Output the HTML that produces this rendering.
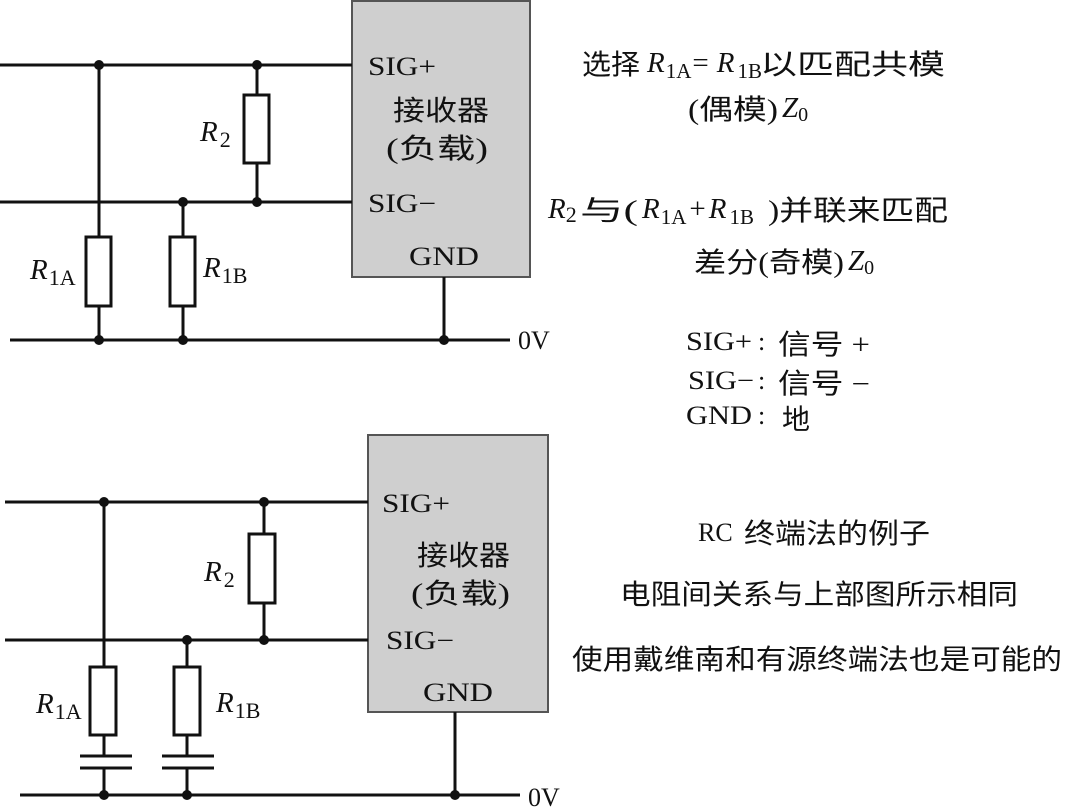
<!DOCTYPE html>
<html><head><meta charset="utf-8"><style>
html,body{margin:0;padding:0;background:#fff;}
svg{display:block;}
text{font-family:"Liberation Serif","Noto Serif CJK SC","Noto Sans CJK SC",serif;fill:#111;}
.cjk{font-family:"Liberation Serif","Noto Sans CJK SC",sans-serif;font-size:28px;}
.i{font-style:italic;}
.r{font-size:29px;}
</style></head><body>
<svg width="1065" height="808" viewBox="0 0 1065 808" xmlns="http://www.w3.org/2000/svg">
<g stroke="#111" stroke-width="3" fill="none">
<rect x="352" y="1" width="178" height="276" fill="#cfcfcf" stroke="#555" stroke-width="2"/>
<line x1="0" y1="65" x2="352" y2="65"/>
<line x1="0" y1="202" x2="352" y2="202"/>
<line x1="10" y1="340" x2="510" y2="340"/>
<line x1="99" y1="65" x2="99" y2="340"/>
<line x1="183" y1="202" x2="183" y2="340"/>
<line x1="257" y1="65" x2="257" y2="202"/>
<line x1="444" y1="277" x2="444" y2="340"/>
<rect x="86" y="237" width="25" height="69" fill="#fff"/>
<rect x="170" y="237" width="25" height="69" fill="#fff"/>
<rect x="244" y="95" width="25" height="68" fill="#fff"/>
<rect x="368" y="435" width="180" height="277" fill="#cfcfcf" stroke="#555" stroke-width="2"/>
<line x1="5" y1="502" x2="368" y2="502"/>
<line x1="5" y1="640" x2="368" y2="640"/>
<line x1="20" y1="795" x2="520" y2="795"/>
<line x1="104" y1="502" x2="104" y2="756"/>
<line x1="104" y1="768" x2="104" y2="795"/>
<line x1="187" y1="640" x2="187" y2="756"/>
<line x1="187" y1="768" x2="187" y2="795"/>
<line x1="264" y1="502" x2="264" y2="640"/>
<line x1="455" y1="712" x2="455" y2="795"/>
<rect x="90" y="667" width="26" height="68" fill="#fff"/>
<rect x="174" y="667" width="26" height="68" fill="#fff"/>
<rect x="249" y="534" width="26" height="69" fill="#fff"/>
<line x1="80" y1="756" x2="132" y2="756"/>
<line x1="80" y1="768" x2="132" y2="768"/>
<line x1="162" y1="756" x2="214" y2="756"/>
<line x1="162" y1="768" x2="214" y2="768"/>
</g>
<g fill="#111">
<circle cx="99" cy="65" r="5"/><circle cx="257" cy="65" r="5"/>
<circle cx="183" cy="202" r="5"/><circle cx="257" cy="202" r="5"/>
<circle cx="99" cy="340" r="5"/><circle cx="183" cy="340" r="5"/><circle cx="444" cy="340" r="5"/>
<circle cx="104" cy="502" r="5"/><circle cx="264" cy="502" r="5"/>
<circle cx="187" cy="640" r="5"/><circle cx="264" cy="640" r="5"/>
<circle cx="104" cy="795" r="5"/><circle cx="187" cy="795" r="5"/><circle cx="455" cy="795" r="5"/>
</g>
<g font-size="26">
<text x="368" y="75" textLength="68" lengthAdjust="spacingAndGlyphs">SIG+</text>
<text x="368" y="212" textLength="68" lengthAdjust="spacingAndGlyphs">SIG−</text>
<text x="409" y="265" textLength="70" lengthAdjust="spacingAndGlyphs">GND</text>
<text class="cjk" x="393" y="120" textLength="96" lengthAdjust="spacingAndGlyphs">接收器</text>
<text class="cjk" x="386" y="158" textLength="102" lengthAdjust="spacingAndGlyphs">(负载)</text>
<text x="518" y="349">0V</text>
<text class="r" x="200" y="141"><tspan class="i">R</tspan><tspan font-size="22" dy="6" dx="2">2</tspan></text>
<text class="r" x="30" y="279"><tspan class="i">R</tspan><tspan font-size="22" dy="6" dx="1">1A</tspan></text>
<text class="r" x="203" y="277"><tspan class="i">R</tspan><tspan font-size="22" dy="6" dx="1">1B</tspan></text>

<text x="382" y="512" textLength="68" lengthAdjust="spacingAndGlyphs">SIG+</text>
<text x="386" y="649" textLength="68" lengthAdjust="spacingAndGlyphs">SIG−</text>
<text x="423" y="701" textLength="70" lengthAdjust="spacingAndGlyphs">GND</text>
<text class="cjk" x="417" y="565" textLength="93" lengthAdjust="spacingAndGlyphs">接收器</text>
<text class="cjk" x="411" y="603" textLength="99" lengthAdjust="spacingAndGlyphs">(负载)</text>
<text x="528" y="806">0V</text>
<text class="r" x="204" y="581"><tspan class="i">R</tspan><tspan font-size="22" dy="6" dx="2">2</tspan></text>
<text class="r" x="36" y="713"><tspan class="i">R</tspan><tspan font-size="22" dy="6" dx="1">1A</tspan></text>
<text class="r" x="216" y="712"><tspan class="i">R</tspan><tspan font-size="22" dy="6" dx="1">1B</tspan></text>
</g>
<g font-size="26">
<text class="cjk" x="582" y="74" textLength="58" lengthAdjust="spacingAndGlyphs">选择</text>
<text class="r" x="647" y="72"><tspan class="i">R</tspan><tspan font-size="21" dy="6" dx="1">1A</tspan><tspan dy="-6" dx="1">=</tspan><tspan class="i" dx="8">R</tspan><tspan font-size="21" dy="6" dx="3">1B</tspan></text>
<text class="cjk" x="760" y="74" textLength="185" lengthAdjust="spacingAndGlyphs">以匹配共模</text>
<text class="cjk" x="688" y="119" textLength="90" lengthAdjust="spacingAndGlyphs">(偶模)</text>
<text class="r" x="782" y="117"><tspan class="i">Z</tspan><tspan font-size="20" dy="4">0</tspan></text>

<text class="r" x="548" y="218"><tspan class="i">R</tspan><tspan font-size="22" dy="4">2</tspan></text>
<text class="cjk" x="580" y="220" textLength="58" lengthAdjust="spacingAndGlyphs">与(</text>
<text class="r" x="642" y="218"><tspan class="i">R</tspan><tspan font-size="21" dy="6" dx="1">1A</tspan><tspan dy="-6" dx="3">+</tspan><tspan class="i" dx="3">R</tspan><tspan font-size="21" dy="6" dx="3">1B</tspan></text>
<text class="cjk" x="768" y="220" textLength="180" lengthAdjust="spacingAndGlyphs">)并联来匹配</text>
<text class="cjk" x="694" y="272" textLength="150" lengthAdjust="spacingAndGlyphs">差分(奇模)</text>
<text class="r" x="848" y="270"><tspan class="i">Z</tspan><tspan font-size="20" dy="4">0</tspan></text>

<text x="686" y="350" textLength="66" lengthAdjust="spacingAndGlyphs">SIG+</text><text x="758" y="350">:</text><text class="cjk" x="778" y="354" textLength="92" lengthAdjust="spacingAndGlyphs">信号 +</text>
<text x="688" y="389" textLength="66" lengthAdjust="spacingAndGlyphs">SIG−</text><text x="758" y="389">:</text><text class="cjk" x="778" y="393" textLength="92" lengthAdjust="spacingAndGlyphs">信号 −</text>
<text x="686" y="424" textLength="66" lengthAdjust="spacingAndGlyphs">GND</text><text x="758" y="424">:</text><text class="cjk" x="782" y="429">地</text>

<text x="698" y="541">RC</text><text class="cjk" x="744" y="543" textLength="186" lengthAdjust="spacingAndGlyphs">终端法的例子</text>
<text class="cjk" x="620" y="604" textLength="398" lengthAdjust="spacingAndGlyphs">电阻间关系与上部图所示相同</text>
<text class="cjk" x="572" y="669" textLength="490" lengthAdjust="spacingAndGlyphs">使用戴维南和有源终端法也是可能的</text>
</g>
</svg>
</body></html>
